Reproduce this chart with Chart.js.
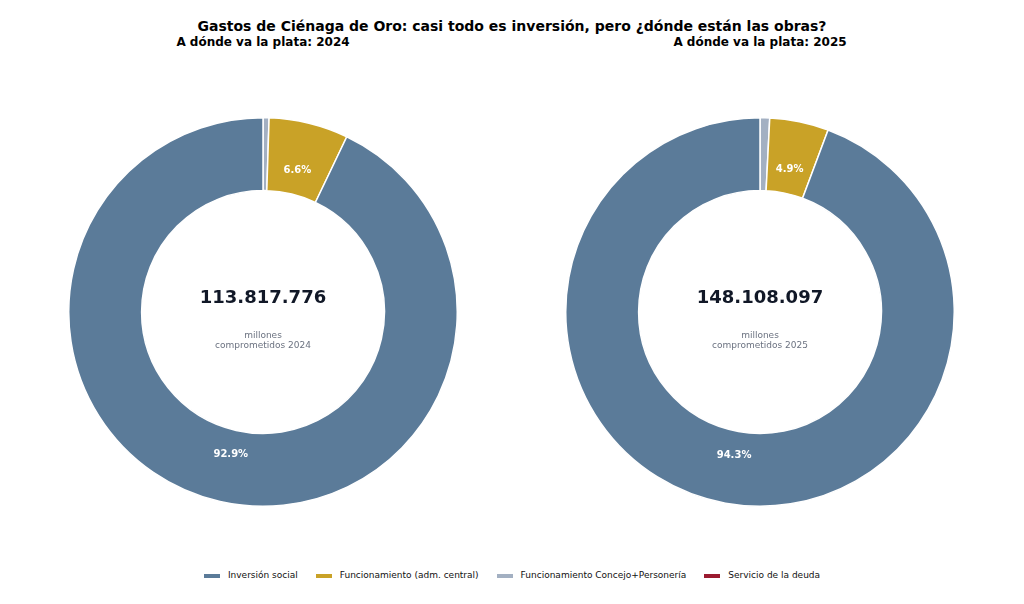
<!DOCTYPE html>
<html lang="es">
<head>
<meta charset="UTF-8">
<title>Gastos de Ciénaga de Oro</title>
<script src="https://cdn.jsdelivr.net/npm/chart.js"></script>
<style>
  body { margin: 0; width: 1024px; height: 604px; background: #fff; font-family: "DejaVu Sans", sans-serif; position: relative; overflow: hidden; }
  .t { position: absolute; text-align: center; font-weight: bold; color: #000; }
  .box { position: absolute; top: 117px; width: 390px; height: 390px; }
  .total { position: absolute; width: 400px; text-align: center; top: 286px; font-size: 18px; font-weight: bold; color: #111827; }
  .sub { position: absolute; width: 400px; text-align: center; top: 330px; font-size: 9px; color: #6b7280; line-height: 10px; }
  #legend { position: absolute; top: 570px; left: 0; width: 1024px; text-align: center; font-size: 9px; color: #111; }
  #legend span.item { display: inline-block; margin: 0 9px; }
  #legend i { display: inline-block; width: 16px; height: 4px; vertical-align: middle; margin-right: 8px; }
</style>
</head>
<body>
<div class="t" style="top:18px;left:0;width:1024px;font-size:14px;">Gastos de Ciénaga de Oro: casi todo es inversión, pero ¿dónde están las obras?</div>
<div class="t" style="top:35px;left:63px;width:400px;font-size:12px;">A dónde va la plata: 2024</div>
<div class="t" style="top:35px;left:560px;width:400px;font-size:12px;">A dónde va la plata: 2025</div>

<div class="box" style="left:68px;"><canvas id="c2024"></canvas></div>
<div class="box" style="left:565px;"><canvas id="c2025"></canvas></div>

<div class="total" style="left:63px;">113.817.776</div>
<div class="sub" style="left:63px;">millones<br>comprometidos 2024</div>
<div class="total" style="left:560px;">148.108.097</div>
<div class="sub" style="left:560px;">millones<br>comprometidos 2025</div>

<div id="legend"></div>

<script>
// categories in legend order
var categories = ['Inversión social', 'Funcionamiento (adm. central)', 'Funcionamiento Concejo+Personería', 'Servicio de la deuda'];
var colors = ['#5b7b99', '#c9a227', '#a3b0c2', '#9b1b30'];
// shares (%)
var share2024 = [92.9, 6.6, 0.5, 0.0];
var share2025 = [94.3, 4.9, 0.8, 0.0];

// labels inside slices, at 75% of the outer radius
var sliceLabels = {
  id: 'sliceLabels',
  afterDatasetsDraw: function(chart) {
    var ctx = chart.ctx;
    var meta = chart.getDatasetMeta(0);
    var vals = chart.data.datasets[0].data;
    ctx.save();
    ctx.fillStyle = '#fff';
    ctx.font = 'bold 10px "DejaVu Sans"';
    ctx.textAlign = 'center';
    ctx.textBaseline = 'middle';
    meta.data.forEach(function(arc, i) {
      if (vals[i] < 3) return;
      var p = arc.getProps(['x', 'y', 'startAngle', 'endAngle', 'outerRadius'], true);
      var a = (p.startAngle + p.endAngle) / 2;
      var r = p.outerRadius * 0.75;
      ctx.fillText(vals[i].toFixed(1) + '%', p.x + Math.cos(a) * r, p.y + Math.sin(a) * r);
    });
    ctx.restore();
  }
};

function makeChart(id, values) {
  // Chart.js draws clockwise, the reference runs counter-clockwise: reverse
  var data = values.slice().reverse();
  var bg = colors.slice().reverse();
  new Chart(document.getElementById(id), {
    type: 'doughnut',
    data: {
      labels: categories.slice().reverse(),
      datasets: [{ data: data, backgroundColor: bg, borderColor: '#fff', borderWidth: 1.5 }]
    },
    options: {
      responsive: true,
      maintainAspectRatio: false,
      animation: false,
      cutout: '62.5%',
      plugins: { legend: { display: false }, tooltip: { enabled: false } }
    },
    plugins: [sliceLabels]
  });
}

makeChart('c2024', share2024);
makeChart('c2025', share2025);

var leg = document.getElementById('legend');
categories.forEach(function(c, i) {
  var s = document.createElement('span');
  s.className = 'item';
  s.innerHTML = '<i style="background:' + colors[i] + '"></i>' + c;
  leg.appendChild(s);
});
</script>
</body>
</html>
